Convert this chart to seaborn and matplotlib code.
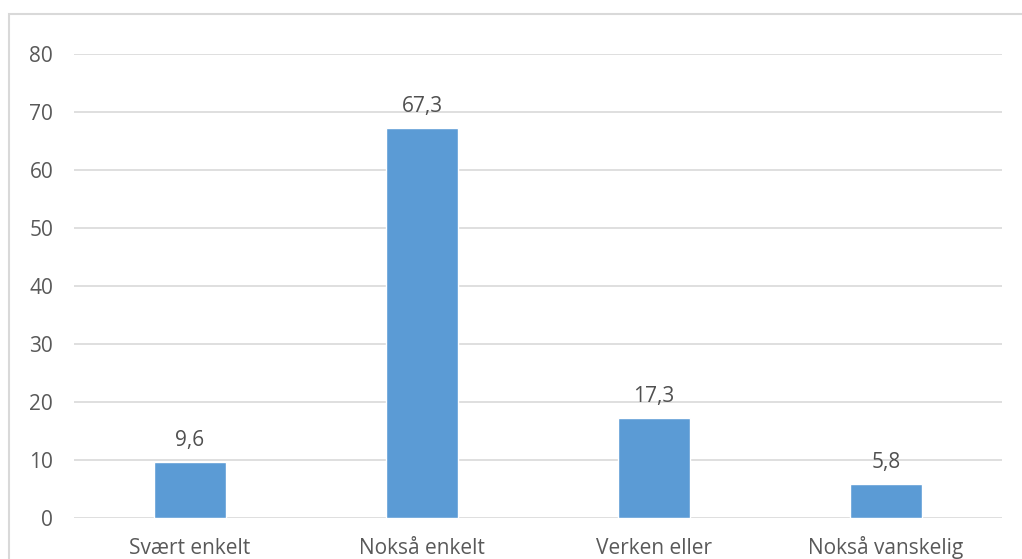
import matplotlib
matplotlib.use("Agg")
import matplotlib.pyplot as plt
import seaborn as sns
import pandas as pd
from matplotlib.patches import Rectangle

# data
kategorier = ["Svært enkelt", "Nokså enkelt", "Verken eller", "Nokså vanskelig"]
prosent = [9.6, 67.3, 17.3, 5.8]
y_ticks = [0, 10, 20, 30, 40, 50, 60, 70, 80]

sns.set_style("white")
plt.rcParams['font.family'] = ['Open Sans', 'DejaVu Sans']

df = pd.DataFrame({"kategori": kategorier, "prosent": prosent})

fig = plt.figure(figsize=(10.22, 5.59), dpi=100)
ax = fig.add_axes([74/1022, 41/559, 928/1022, 464/559])

sns.barplot(data=df, x="kategori", y="prosent", color="#5b9bd5",
            saturation=1, width=0.31, ax=ax)

ax.set_ylim(0, 80)
ax.set_xlim(-0.5, 3.5)
ax.set_yticks(y_ticks)
ax.yaxis.grid(True, color="#d9d9d9", linewidth=1.2)
ax.set_axisbelow(True)
for s in ax.spines.values():
    s.set_visible(False)
ax.set_xlabel("")
ax.set_ylabel("")
ax.tick_params(axis="y", length=0, pad=15, labelsize=15, labelcolor="#595959")
ax.tick_params(axis="x", length=0, pad=26, labelsize=15, labelcolor="#595959")
# same baseline for all category labels (å would push one down otherwise)
for lbl in ax.get_xticklabels():
    lbl.set_verticalalignment("baseline")

etiketter = [f"{v:.1f}".replace(".", ",") for v in prosent]
ax.bar_label(ax.containers[0], labels=etiketter, padding=8,
             fontsize=15, color="#505050")

# outer chart frame (cut off at right/bottom in the reference)
fig.patches.append(Rectangle((9/1022, -0.1), 1.2, (559-14)/559 + 0.1,
                             transform=fig.transFigure, fill=False,
                             edgecolor="#d9d9d9", linewidth=1.5))

fig.savefig("out.png", dpi=100, facecolor="white")
